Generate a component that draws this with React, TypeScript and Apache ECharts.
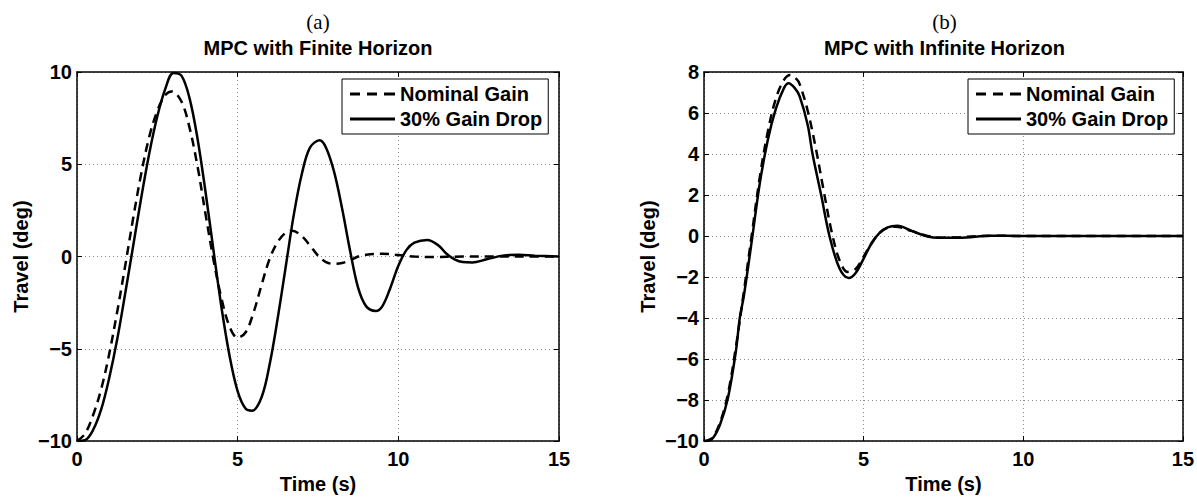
import React, { useEffect, useRef } from "react";
import * as echarts from "echarts";

// ---------- Data ----------
// (a) MPC with Finite Horizon
const finNomT = [0, 0.25, 0.5, 0.75, 1.0, 1.25, 1.5, 1.75, 2.0, 2.25, 2.5, 2.75, 2.95, 3.25, 3.5, 3.75, 4.0, 4.25, 4.5, 4.75, 5.0, 5.25, 5.5, 5.75, 6.0, 6.25, 6.5, 6.7, 7.0, 7.25, 7.5, 7.75, 8.0, 8.25, 8.5, 8.75, 9.0, 9.5, 10.0, 10.5, 11.0, 12.0, 13.0, 14.0, 15.0];
const finNomV = [-10, -9.6, -8.6, -7.2, -5.3, -3.0, -0.5, 2.1, 4.5, 6.5, 7.9, 8.75, 8.95, 8.4, 7.0, 4.9, 2.3, -0.2, -2.3, -3.8, -4.4, -4.1, -3.0, -1.5, -0.1, 0.8, 1.3, 1.4, 1.1, 0.6, 0.05, -0.3, -0.4, -0.35, -0.2, 0.0, 0.1, 0.15, 0.08, 0.0, -0.03, 0.0, 0.0, 0.0, 0.0];

const finDropT = [0, 0.25, 0.5, 0.75, 1.0, 1.25, 1.5, 1.75, 2.0, 2.25, 2.5, 2.75, 3.0, 3.25, 3.5, 3.75, 4.0, 4.25, 4.5, 4.75, 5.0, 5.25, 5.45, 5.75, 6.0, 6.25, 6.5, 6.75, 7.0, 7.25, 7.55, 7.75, 8.0, 8.25, 8.5, 8.75, 9.0, 9.3, 9.5, 9.75, 10.0, 10.25, 10.5, 10.9, 11.25, 11.5, 11.75, 12.0, 12.3, 12.75, 13.25, 13.75, 14.25, 15.0];
const finDropV = [-10, -9.95, -9.4, -8.3, -6.6, -4.5, -2.0, 0.6, 3.2, 5.6, 7.6, 9.1, 9.95, 9.8, 8.6, 6.4, 3.5, 0.3, -2.8, -5.4, -7.3, -8.25, -8.35, -7.6, -5.8, -3.3, -0.5, 2.3, 4.5, 5.9, 6.3, 5.9, 4.6, 2.6, 0.3, -1.7, -2.7, -2.95, -2.7, -1.7, -0.5, 0.35, 0.75, 0.9, 0.6, 0.15, -0.15, -0.3, -0.32, -0.15, 0.05, 0.1, 0.05, 0.0];

// (b) MPC with Infinite Horizon
const infNomT = [0, 0.25, 0.5, 0.75, 1.0, 1.25, 1.5, 1.75, 2.0, 2.25, 2.5, 2.7, 2.9, 3.0, 3.25, 3.5, 3.75, 4.0, 4.25, 4.5, 4.75, 5.0, 5.25, 5.5, 5.75, 6.0, 6.5, 7.0, 7.5, 8.0, 9.0, 10.0, 12.0, 15.0];
const infNomV = [-10, -9.85, -9.1, -7.7, -5.4, -2.7, 0.1, 2.9, 5.1, 6.7, 7.6, 7.85, 7.65, 7.4, 6.1, 4.3, 2.2, 0.2, -1.2, -1.75, -1.6, -1.0, -0.35, 0.15, 0.4, 0.45, 0.25, 0.0, -0.08, -0.06, 0.02, 0.0, 0.0, 0.0];

const infDropT = [0, 0.25, 0.5, 0.75, 1.0, 1.12, 1.25, 1.5, 1.75, 2.0, 2.25, 2.5, 2.65, 2.85, 3.0, 3.25, 3.4, 3.67, 3.93, 4.25, 4.53, 4.75, 5.0, 5.25, 5.5, 5.75, 6.06, 6.5, 7.0, 7.36, 8.0, 9.0, 10.0, 12.0, 15.0];
const infDropV = [-10, -9.9, -9.2, -7.9, -5.6, -4.0, -2.9, -0.2, 2.6, 4.7, 6.2, 7.2, 7.45, 7.2, 6.8, 5.4, 4.0, 2.0, 0.0, -1.6, -2.05, -1.8, -1.1, -0.35, 0.15, 0.42, 0.5, 0.25, -0.02, -0.08, -0.08, 0.02, 0.0, 0.0, 0.0];

const seriesNames = ["Nominal Gain", "30% Gain Drop"];
const subLabels = ["(a)", "(b)"];
const subTitles = ["MPC with Finite Horizon", "MPC with Infinite Horizon"];
const xTicks = { min: 0, max: 15, interval: 5 };
const yTicksA = { min: -10, max: 10, interval: 5 };
const yTicksB = { min: -10, max: 8, interval: 2 };
const xName = "Time (s)";
const yName = "Travel (deg)";

const pairs = (t: number[], v: number[]) => t.map((x, i) => [x, v[i]]);

const SANS = '"Liberation Sans", Arial, Helvetica, sans-serif';
const SERIF = '"Liberation Serif", "Times New Roman", serif';

const grids = [
  { left: 77, top: 72, width: 482, height: 377 },
  { left: 704, top: 72, width: 481, height: 377 },
];

const DASH_ICON = "path://M0 0h10v3H0z M17 0h10v3H17z M34 0h11v3H34z";
const SOLID_ICON = "path://M0 0h45v3H0z";

export default function App() {
  const ref = useRef<HTMLDivElement>(null);
  useEffect(() => {
    if (!ref.current) return;
    const chart = echarts.init(ref.current, undefined, { renderer: "svg" });
    const minus = (v: number) => String(v).replace("-", "\u2212");
    const labelStyle = {
      color: "#000",
      fontFamily: SANS,
      fontWeight: "bold" as const,
      fontSize: 20,
    };
    const axisLine = { show: true, onZero: false, lineStyle: { color: "#000", width: 1.5 } };
    const tick = { show: true, inside: true, length: 5, lineStyle: { color: "#000", width: 1 } };
    const split = { show: true, lineStyle: { color: "#8c8c8c", width: 1, type: [1, 3] as any } };

    const xAxis: any[] = [];
    const yAxis: any[] = [];
    [0, 1].forEach((g) => {
      const yt = g === 0 ? yTicksA : yTicksB;
      xAxis.push({
        type: "value", gridIndex: g, position: "bottom", ...xTicks,
        axisLine, axisTick: tick, splitLine: split,
        axisLabel: { ...labelStyle, margin: 8, formatter: minus },
        name: xName, nameLocation: "middle", nameGap: 31,
        nameTextStyle: { ...labelStyle },
      });
      xAxis.push({
        type: "value", gridIndex: g, position: "top", ...xTicks,
        axisLine, axisTick: tick, splitLine: { show: false }, axisLabel: { show: false },
      });
      yAxis.push({
        type: "value", gridIndex: g, position: "left", ...yt,
        axisLine, axisTick: tick, splitLine: split,
        axisLabel: { ...labelStyle, margin: 5, formatter: minus },
        name: yName, nameLocation: "middle", nameRotate: 90, nameGap: 46,
        nameTextStyle: { ...labelStyle },
      });
      yAxis.push({
        type: "value", gridIndex: g, position: "right", ...yt,
        axisLine, axisTick: tick, splitLine: { show: false }, axisLabel: { show: false },
      });
    });

    const mk = (name: string, data: number[][], g: number, dashed: boolean) => ({
      type: "line", name, xAxisIndex: g * 2, yAxisIndex: g * 2, data,
      smooth: 0.35, symbol: "none", showSymbol: false,
      lineStyle: { color: "#000", width: 2.5, type: dashed ? [9, 6] : "solid" },
      itemStyle: { color: "#000" }, z: dashed ? 3 : 2,
    });

    const legendBase = {
      orient: "vertical", top: 79, itemWidth: 45, itemHeight: 3, itemGap: 5,
      symbolKeepAspect: false,
      padding: [5, 6, 5, 8], borderColor: "#000", borderWidth: 1,
      backgroundColor: "#fff", selectedMode: false,
      itemStyle: { color: "#000", borderWidth: 0 },
      textStyle: { ...labelStyle, lineHeight: 20 },
      data: [
        { name: seriesNames[0], icon: DASH_ICON },
        { name: seriesNames[1], icon: SOLID_ICON },
      ],
    };

    const graphic: any[] = [];
    [0, 1].forEach((g) => {
      const cx = grids[g].left + grids[g].width / 2;
      graphic.push({
        type: "text", x: cx, y: 22,
        style: { text: subLabels[g], fill: "#000", fontFamily: SERIF, fontSize: 21,
          textAlign: "center", textVerticalAlign: "middle", align: "center", verticalAlign: "middle" },
      });
      graphic.push({
        type: "text", x: cx, y: 48,
        style: { text: subTitles[g], fill: "#000", fontFamily: SANS, fontWeight: "bold", fontSize: 20,
          textAlign: "center", textVerticalAlign: "middle", align: "center", verticalAlign: "middle" },
      });
    });

    chart.setOption({
      animation: false,
      backgroundColor: "#fff",
      grid: grids.map((g) => ({ ...g, containLabel: false })),
      xAxis, yAxis,
      legend: [
        { ...legendBase, left: 342 },
        { ...legendBase, left: 968 },
      ],
      graphic,
      series: [
        mk(seriesNames[0], pairs(finNomT, finNomV), 0, true),
        mk(seriesNames[1], pairs(finDropT, finDropV), 0, false),
        mk(seriesNames[0], pairs(infNomT, infNomV), 1, true),
        mk(seriesNames[1], pairs(infDropT, infDropV), 1, false),
      ],
    });
    return () => chart.dispose();
  }, []);
  return (
    <div
      ref={ref}
      style={{ position: "fixed", left: 0, top: 0, width: 1197, height: 499, background: "#fff" }}
    />
  );
}
